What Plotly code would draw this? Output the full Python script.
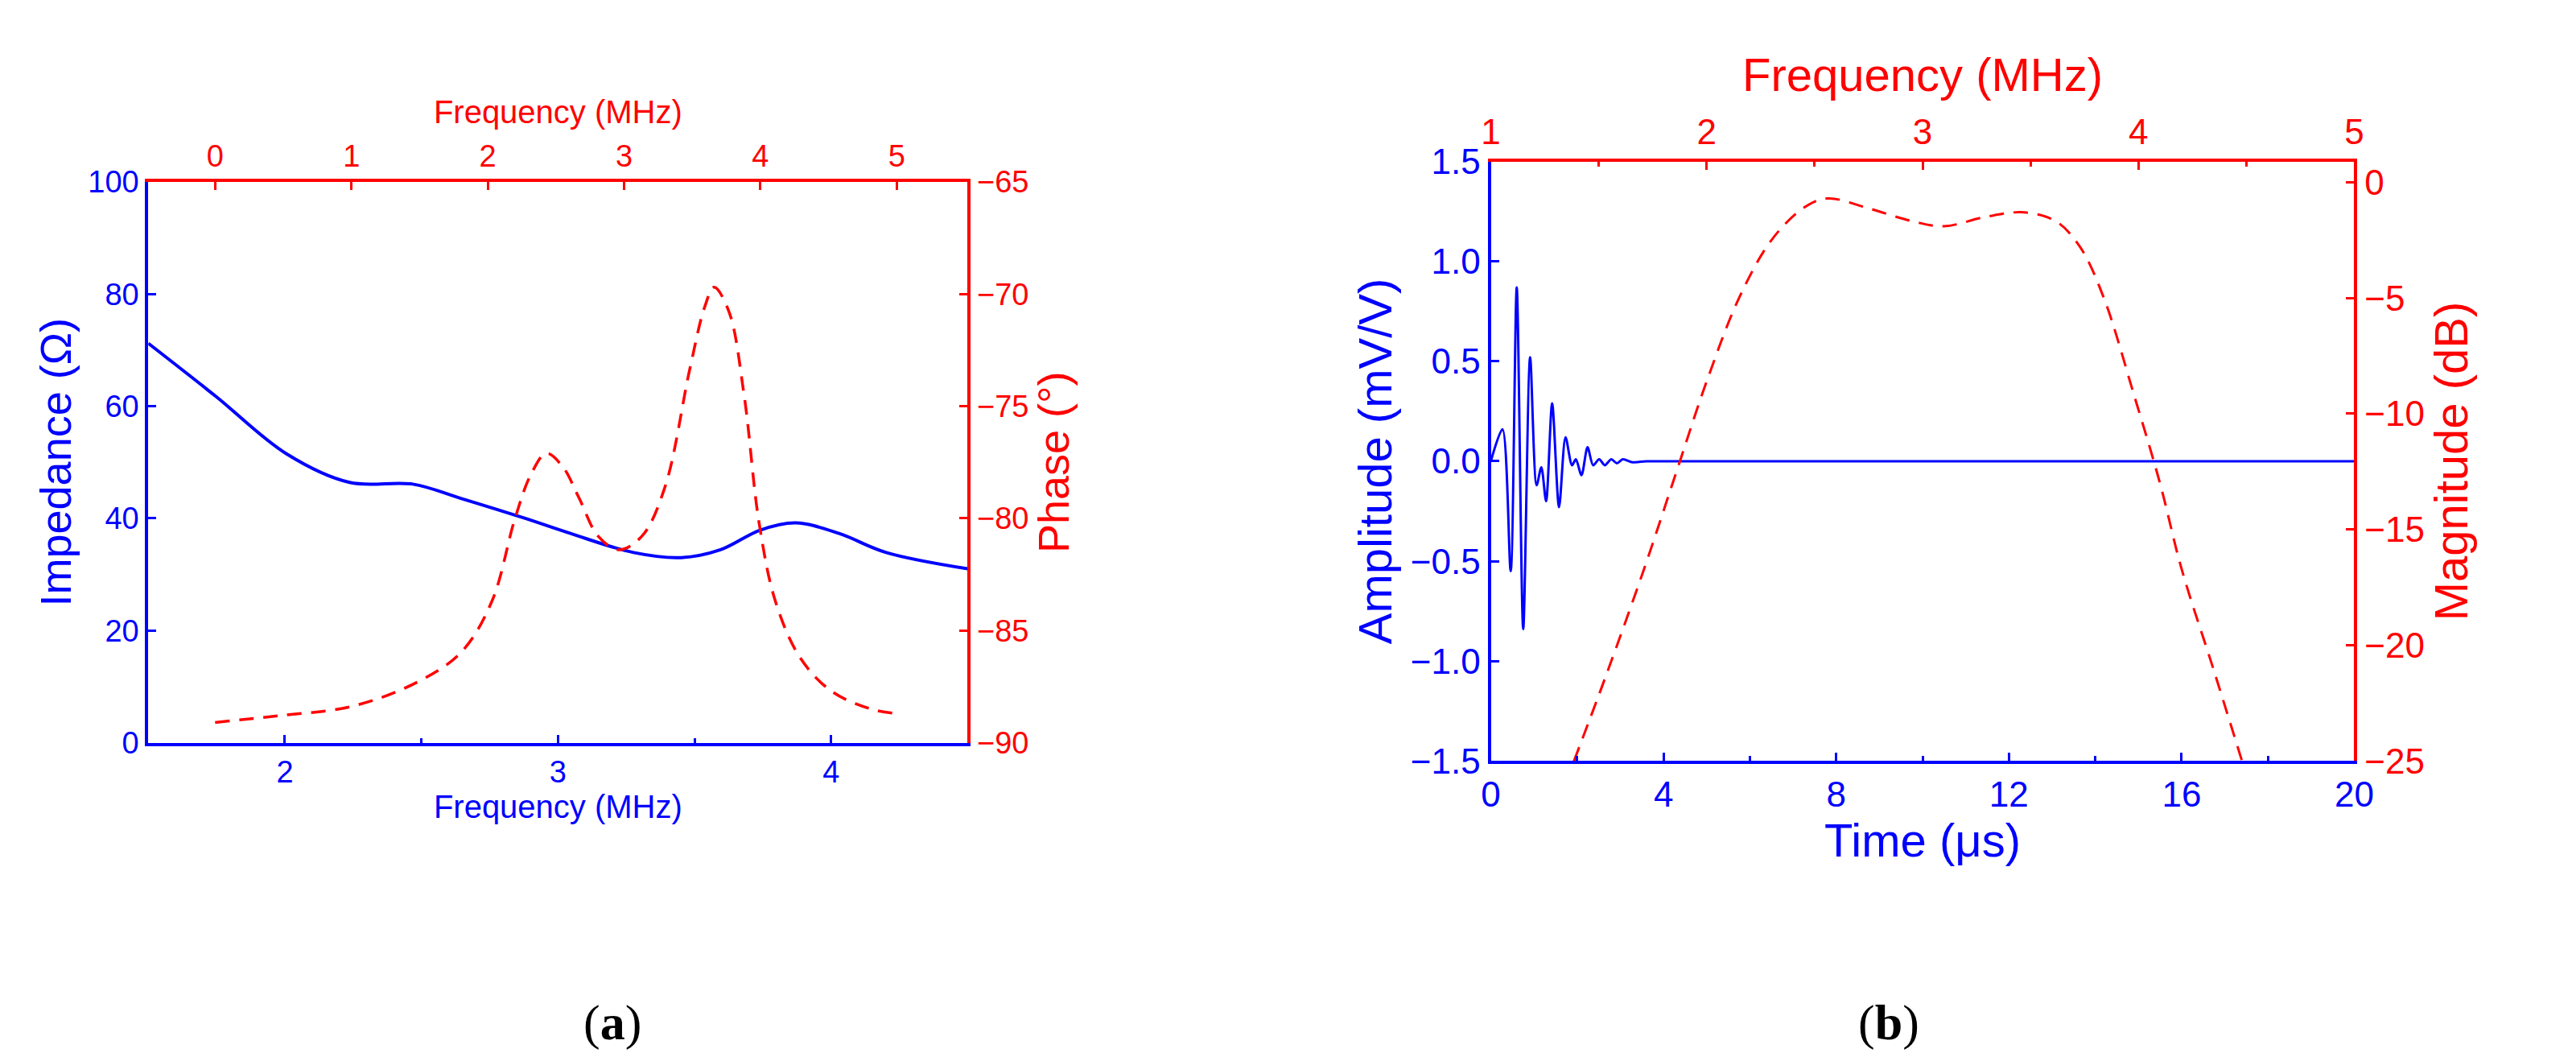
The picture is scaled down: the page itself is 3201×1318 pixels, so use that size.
import plotly.graph_objects as go

# Panel (a)
imp_f = [1.5, 1.746, 2.006, 2.237, 2.468, 2.642, 2.873, 3.046, 3.277, 3.451, 3.595, 3.740, 3.870, 4.029, 4.202, 4.5]
imp_z = [71.2, 61.8, 51.5, 46.4, 46.1, 43.6, 40.1, 37.3, 33.9, 33.0, 34.4, 37.9, 39.2, 37.3, 33.9, 31.0]
ph_f = [0.0, 0.46, 0.99, 1.45, 1.80, 2.03, 2.20, 2.32, 2.43, 2.55, 2.67, 2.81, 2.96, 3.13, 3.30, 3.48, 3.59, 3.66, 3.77, 3.88, 3.99, 4.11, 4.29, 4.52, 4.81, 5.0]
ph_v = [-89.1, -88.8, -88.4, -87.4, -86.0, -83.7, -80.0, -78.0, -77.1, -77.7, -79.1, -80.8, -81.4, -80.8, -78.6, -73.4, -70.6, -69.7, -70.8, -74.5, -80.2, -83.7, -86.2, -87.7, -88.5, -88.7]

# Panel (b)
t_us = [0.0, 0.27, 0.46, 0.60, 0.75, 0.91, 1.06, 1.17, 1.28, 1.42, 1.58, 1.73, 1.88, 1.97, 2.10, 2.24, 2.37, 2.51, 2.64, 2.79, 2.92, 3.06, 3.28, 3.6, 4.0, 20.0]
amp = [0.0, 0.16, -0.55, 0.87, -0.84, 0.52, -0.12, -0.03, -0.20, 0.29, -0.23, 0.12, -0.02, 0.01, -0.07, 0.07, -0.02, 0.01, -0.02, 0.01, -0.01, 0.01, -0.005, 0.0, 0.0, 0.0]
mag_f = [1.385, 1.53, 1.71, 1.86, 2.0, 2.15, 2.30, 2.45, 2.56, 2.74, 2.96, 3.10, 3.29, 3.47, 3.62, 3.73, 3.84, 3.98, 4.10, 4.20, 4.35, 4.48]
mag_db = [-25, -21.4, -16.7, -12.5, -8.6, -5.0, -2.5, -1.1, -0.7, -1.1, -1.7, -1.9, -1.5, -1.3, -1.7, -2.8, -5.0, -9.2, -13.0, -16.7, -21.1, -25]

BLUE = "#0000ff"
RED = "#ff0000"
F = "Liberation Sans"

fig = go.Figure()
fig.add_trace(go.Scatter(x=imp_f, y=imp_z, xaxis="x", yaxis="y", mode="lines",
                         line=dict(color=BLUE, width=4, shape="spline")))
fig.add_trace(go.Scatter(x=ph_f, y=ph_v, xaxis="x2", yaxis="y2", mode="lines",
                         line=dict(color=RED, width=3.5, dash="18px,12px", shape="spline")))
fig.add_trace(go.Scatter(x=t_us, y=amp, xaxis="x3", yaxis="y3", mode="lines",
                         line=dict(color=BLUE, width=3, shape="spline", smoothing=0.8)))
fig.add_trace(go.Scatter(x=mag_f, y=mag_db, xaxis="x4", yaxis="y4", mode="lines",
                         line=dict(color=RED, width=3, dash="18px,12px", shape="spline")))

def ax(color, size, minor=True, **kw):
    d = dict(showline=True, linecolor=color, linewidth=4, ticks="inside", ticklen=10, tickwidth=3,
             tickcolor=color, tickfont=dict(color=color, size=size, family=F), showgrid=False,
             zeroline=False)
    if minor:
        d["minor"] = dict(ticks="inside", ticklen=6, tickwidth=3, tickcolor=color, nticks=2)
    d.update(kw)
    return d

ax_dom = [0.0519, 0.3736]
ay_dom = [0.299, 0.848]
bx_dom = [0.579, 0.918]
by_dom = [0.281, 0.868]

fig.update_layout(
    width=3201, height=1318, margin=dict(l=0, r=0, t=0, b=0),
    paper_bgcolor="white", plot_bgcolor="white", showlegend=False,
    xaxis=ax(BLUE, 38, domain=ax_dom, anchor="y", range=[1.5, 4.5], dtick=1,
             title=dict(text="Frequency (MHz)", font=dict(color=BLUE, size=40, family=F), standoff=6)),
    yaxis=ax(BLUE, 38, minor=False, domain=ay_dom, anchor="x", range=[0, 100], dtick=20,
             title=dict(text="Impedance (Ω)", font=dict(color=BLUE, size=54, family=F), standoff=4)),
    xaxis2=ax(RED, 38, minor=False, domain=ax_dom, anchor="y2", overlaying="x", side="top", range=[-0.49, 5.52], dtick=1,
              title=dict(text="Frequency (MHz)", font=dict(color=RED, size=40, family=F), standoff=8)),
    yaxis2=ax(RED, 38, domain=ay_dom, anchor="x2", overlaying="y", side="right", range=[-90, -65], dtick=5,
              title=dict(text="Phase (°)", font=dict(color=RED, size=54, family=F), standoff=12)),
    xaxis3=ax(BLUE, 44, domain=bx_dom, anchor="y3", range=[0, 20], dtick=4,
              title=dict(text="Time (μs)", font=dict(color=BLUE, size=58, family=F), standoff=8)),
    yaxis3=ax(BLUE, 44, minor=False, domain=by_dom, anchor="x3", range=[-1.5, 1.5], dtick=0.5, tickformat=".1f",
              title=dict(text="Amplitude (mV/V)", font=dict(color=BLUE, size=58, family=F), standoff=6)),
    xaxis4=ax(RED, 44, domain=bx_dom, anchor="y4", overlaying="x3", side="top", range=[1, 5], dtick=1,
              title=dict(text="Frequency (MHz)", font=dict(color=RED, size=58, family=F), standoff=8)),
    yaxis4=ax(RED, 44, domain=by_dom, anchor="x4", overlaying="y3", side="right", range=[-25, 0.9], dtick=5,
              title=dict(text="Magnitude (dB)", font=dict(color=RED, size=58, family=F), standoff=6)),
    annotations=[
        dict(text="(<b>a</b>)", x=0.222, y=0.025, xref="paper", yref="paper", yanchor="middle",
             showarrow=False, font=dict(size=62, family="Liberation Serif", color="black")),
        dict(text="(<b>b</b>)", x=0.748, y=0.025, xref="paper", yref="paper", yanchor="middle",
             showarrow=False, font=dict(size=62, family="Liberation Serif", color="black")),
    ],
)
fig.write_html("out.html")
